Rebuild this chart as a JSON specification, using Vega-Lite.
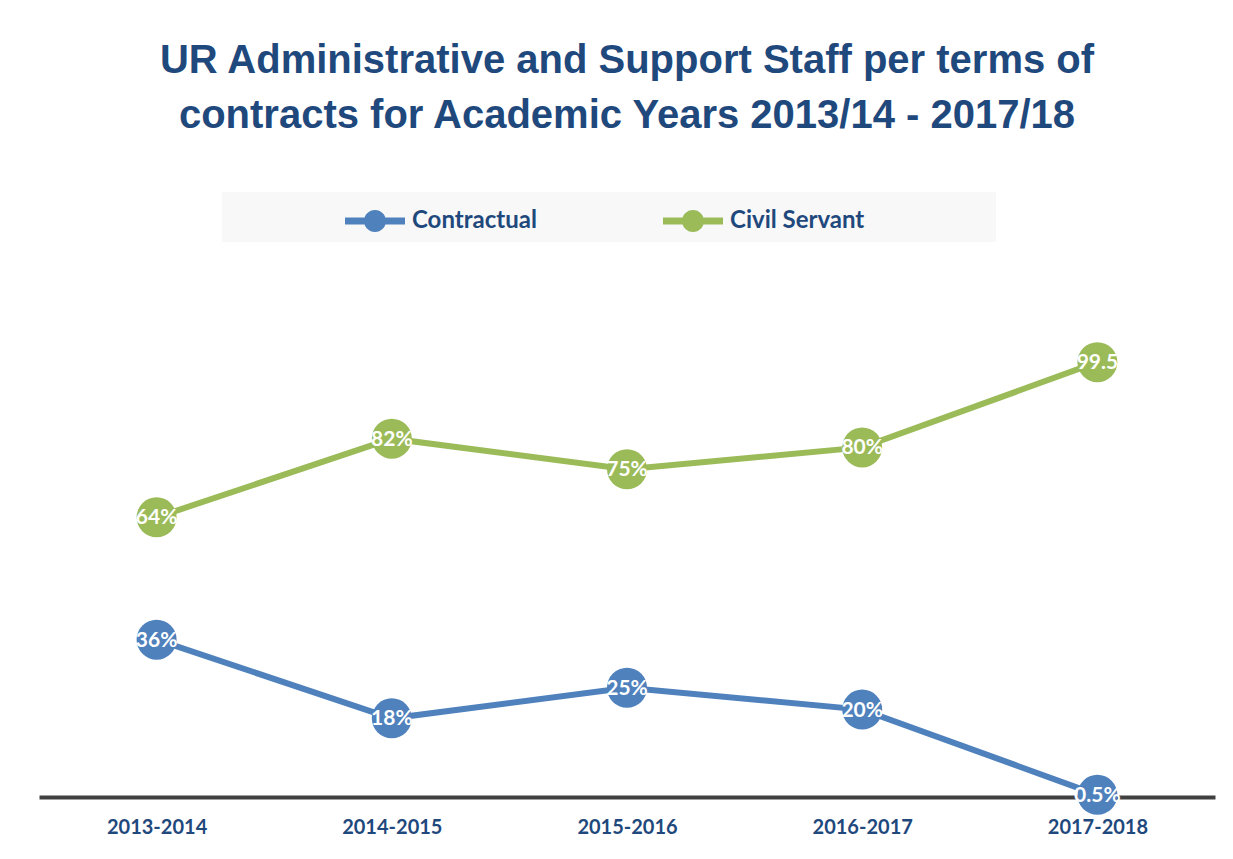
{
  "$schema": "https://vega.github.io/schema/vega-lite/v6.json",
  "width": 1176,
  "height": 437,
  "autosize": {"type": "none"},
  "padding": {"left": 39, "top": 360, "right": 18, "bottom": 62},
  "background": "white",
  "title": {
    "text": ["UR Administrative and Support Staff per terms of", "contracts for Academic Years 2013/14 - 2017/18"],
    "font": "Liberation Sans",
    "fontSize": 40,
    "fontWeight": "bold",
    "color": "#1F497D",
    "lineHeight": 55,
    "anchor": "middle",
    "frame": "group",
    "offset": 56
  },
  "data": {
    "values": [
      {"year": "2013-2014", "series": "Contractual", "value": 36, "label": "36%"},
      {"year": "2014-2015", "series": "Contractual", "value": 18, "label": "18%"},
      {"year": "2015-2016", "series": "Contractual", "value": 25, "label": "25%"},
      {"year": "2016-2017", "series": "Contractual", "value": 20, "label": "20%"},
      {"year": "2017-2018", "series": "Contractual", "value": 0.5, "label": "0.5%"},
      {"year": "2013-2014", "series": "Civil Servant", "value": 64, "label": "64%"},
      {"year": "2014-2015", "series": "Civil Servant", "value": 82, "label": "82%"},
      {"year": "2015-2016", "series": "Civil Servant", "value": 75, "label": "75%"},
      {"year": "2016-2017", "series": "Civil Servant", "value": 80, "label": "80%"},
      {"year": "2017-2018", "series": "Civil Servant", "value": 99.5, "label": "99.5"}
    ]
  },
  "encoding": {
    "x": {
      "field": "year",
      "type": "nominal",
      "sort": null,
      "scale": {"type": "point", "padding": 0.5},
      "axis": {
        "title": null,
        "labelAngle": 0,
        "ticks": false,
        "domainColor": "#404040",
        "domainWidth": 4,
        "labelFont": "Lato",
        "labelFontWeight": "bold",
        "labelFontSize": 20,
        "labelColor": "#1F497D",
        "labelPadding": 20
      }
    },
    "y": {
      "field": "value",
      "type": "quantitative",
      "scale": {"domain": [0, 100], "nice": false, "zero": true},
      "axis": null
    },
    "color": {
      "field": "series",
      "type": "nominal",
      "scale": {"domain": ["Contractual", "Civil Servant"], "range": ["#4F81BD", "#9BBB59"]},
      "legend": {
        "title": null,
        "orient": "none",
        "direction": "horizontal",
        "legendX": 183,
        "legendY": -168,
        "fillColor": "#F8F8F8",
        "padding": 9,
        "symbolOffset": 124,
        "symbolType": "M-1.5,-0.18 H1.5 V0.18 H-1.5 Z M0,-0.55 A0.55,0.55 0 1,1 0,0.55 A0.55,0.55 0 1,1 0,-0.55 Z",
        "symbolSize": 1600,
        "symbolStrokeWidth": 0,
        "symbolOpacity": 1,
        "labelFont": "Lato",
        "labelFontWeight": "bold",
        "labelFontSize": 24,
        "labelColor": "#1F497D",
        "labelOffset": 17,
        "labelLimit": 400,
        "columnPadding": 12,
        "labelExpr": "datum.label == 'Civil Servant' ? datum.label + '                     \u200b' : datum.label"
      }
    }
  },
  "layer": [
    {
      "mark": {"type": "line", "strokeWidth": 6}
    },
    {
      "mark": {"type": "point", "filled": true, "size": 1600, "opacity": 1, "shape": "circle"}
    },
    {
      "mark": {"type": "text", "color": "white", "font": "Lato", "fontWeight": "bold", "fontSize": 21, "align": "center", "baseline": "middle", "dy": 1},
      "encoding": {
        "text": {"field": "label"},
        "color": {"value": "white"}
      }
    }
  ],
  "config": {"view": {"stroke": null}}
}
